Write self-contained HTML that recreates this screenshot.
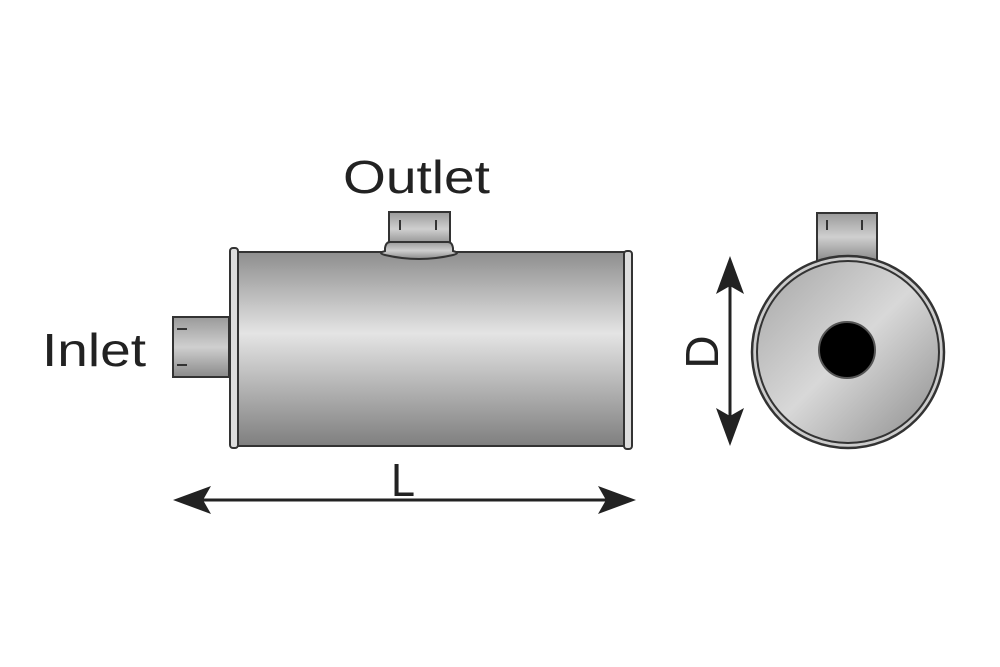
<!DOCTYPE html>
<html><head><style>body{margin:0;background:#fff}svg{display:block}</style></head><body>
<svg width="1000" height="667" viewBox="0 0 1000 667" xmlns="http://www.w3.org/2000/svg">
<defs>
<linearGradient id="g" x1="0" y1="0" x2="0" y2="1">
<stop offset="0" stop-color="#8e8e8e"/><stop offset="0.42" stop-color="#e4e4e4"/><stop offset="1" stop-color="#7f7f7f"/>
</linearGradient>
<linearGradient id="gp" x1="0" y1="0" x2="0" y2="1">
<stop offset="0" stop-color="#9a9a9a"/><stop offset="0.5" stop-color="#cfcfcf"/><stop offset="1" stop-color="#8a8a8a"/>
</linearGradient>
<linearGradient id="gc" x1="0" y1="0" x2="1" y2="1">
<stop offset="0" stop-color="#a5a5a5"/><stop offset="0.5" stop-color="#d8d8d8"/><stop offset="1" stop-color="#8c8c8c"/>
</linearGradient>
</defs>
<g font-family="'Liberation Sans',sans-serif" font-size="46" fill="#222">
<text x="343" y="193" textLength="147" lengthAdjust="spacingAndGlyphs">Outlet</text>
<text x="42" y="366" textLength="104" lengthAdjust="spacingAndGlyphs">Inlet</text>
<text x="391" y="496" textLength="24" lengthAdjust="spacingAndGlyphs">L</text>
<text transform="translate(718,352) rotate(-90)" text-anchor="middle">D</text>
</g>
<rect x="173" y="317" width="56" height="60" fill="url(#gp)" stroke="#333" stroke-width="2"/>
<path d="M177 329h10M177 365h10" stroke="#333" stroke-width="2"/>
<rect x="236" y="252" width="391" height="194" fill="url(#g)" stroke="#333" stroke-width="2"/>
<rect x="230" y="248" width="8" height="200" rx="3" fill="#ddd" stroke="#333" stroke-width="2"/>
<rect x="624" y="251" width="8" height="198" rx="3" fill="#ddd" stroke="#333" stroke-width="2"/>
<rect x="389" y="212" width="61" height="34" fill="url(#gp)" stroke="#333" stroke-width="2"/>
<path d="M400 220v10M436 220v10" stroke="#333" stroke-width="2"/>
<path d="M390 242h58q4 0 5 6v3q8 2 0 4q-34 8 -68 0q-8 -2 0 -4v-3q1 -6 5 -6z" fill="url(#gp)" stroke="#333" stroke-width="2"/>
<line x1="185" y1="500" x2="625" y2="500" stroke="#222" stroke-width="3"/>
<path d="M173 500L211 486L203 500L211 514Z" fill="#222"/>
<path d="M636 500L598 486L606 500L598 514Z" fill="#222"/>
<line x1="730" y1="268" x2="730" y2="434" stroke="#222" stroke-width="3"/>
<path d="M730 256L716 294L730 286L744 294Z" fill="#222"/>
<path d="M730 446L716 408L730 416L744 408Z" fill="#222"/>
<rect x="817" y="213" width="60" height="48" fill="url(#gp)" stroke="#333" stroke-width="2"/>
<path d="M827 220v10M862 220v10" stroke="#333" stroke-width="2"/>
<circle cx="848" cy="352" r="96" fill="#ccc" stroke="#333" stroke-width="2.5"/>
<circle cx="848" cy="352" r="91" fill="url(#gc)" stroke="#333" stroke-width="2"/>
<circle cx="847" cy="350" r="28" fill="#000" stroke="#555" stroke-width="2"/>
</svg>
</body></html>
